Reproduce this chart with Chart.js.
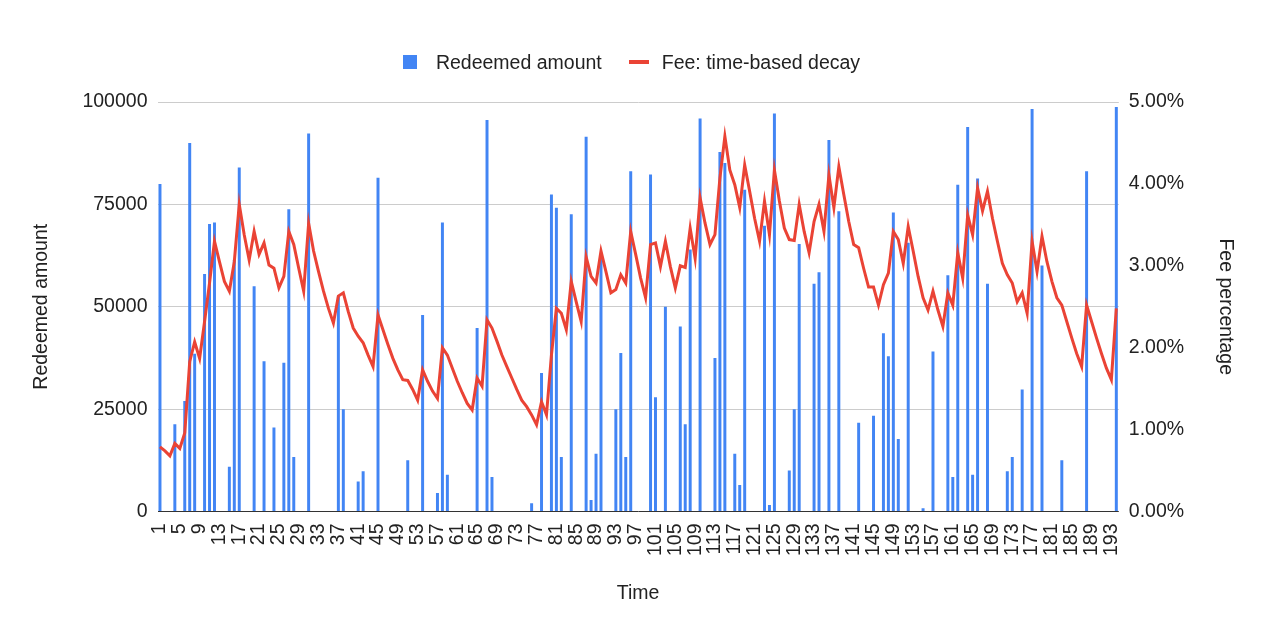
<!DOCTYPE html>
<html>
<head>
<meta charset="utf-8">
<script src="https://cdn.jsdelivr.net/npm/chart.js@4.4.1/dist/chart.umd.min.js"></script>
<style>
  body { margin: 0; background: #fff; font-family: 'Liberation Sans', Arial, sans-serif; }
  #wrap { position: relative; width: 1271px; height: 638px; }
  #legend { position: absolute; top: 50px; left: -4px; width: 1271px; height: 24px; display: flex; justify-content: center; align-items: center; font-size: 19.5px; color: #222; }
</style>
</head>
<body>
<div id="wrap">
  <canvas id="mainChart"></canvas>
  <div id="legend"></div>
</div>
<script>
const BLUE = '#4285f4';
const RED = '#ea4335';

// x categories: time steps 1..194, labels shown every 4th
const times = Array.from({ length: 194 }, (_, i) => i + 1);

// time steps that had a redemption, and the amount redeemed
const barTimes = [
  1, 4, 6, 7, 8, 10, 11, 12, 15, 16,
  17, 20, 22, 24, 26, 27, 28, 31, 37, 38,
  41, 42, 45, 51, 54, 57, 58, 59, 65, 67,
  68, 76, 78, 80, 81, 82, 84, 87, 88, 89,
  90, 93, 94, 95, 96, 100, 101, 103, 106, 107,
  108, 110, 113, 114, 115, 117, 118, 119, 123, 124,
  125, 128, 129, 130, 133, 134, 136, 138, 142, 145,
  147, 148, 149, 150, 152, 155, 157, 160, 161, 162,
  164, 165, 166, 168, 172, 173, 175, 177, 179, 183,
  188, 194,
];
const barAmounts = [
  80000, 21300, 27000, 90000, 38500, 58000, 70200, 70600, 10900, 61500,
  84000, 55000, 36700, 20500, 36300, 73800, 13300, 92300, 52500, 25000,
  7300, 9800, 81500, 12500, 48000, 4500, 70600, 9000, 44800, 95600,
  8400, 2000, 33800, 77400, 74200, 13300, 72600, 91500, 2800, 14100,
  62500, 25000, 38700, 13300, 83100, 82300, 27900, 50000, 45200, 21300,
  64000, 96000, 37500, 87800, 85100, 14100, 6500, 78600, 69800, 1600,
  97200, 10000, 25000, 65300, 55600, 58400, 90700, 73300, 21700, 23400,
  43500, 37900, 73000, 17700, 65600, 800, 39100, 57700, 8400, 79800,
  93900, 9000, 81300, 55600, 9800, 13300, 29800, 98300, 60100, 12500,
  83100, 98800,
];

// fee percentage at each time step
const feePct = [
  0.79, 0.74, 0.68, 0.83, 0.77, 0.96, 1.83, 2.07, 1.87, 2.32,
  2.79, 3.30, 3.05, 2.81, 2.69, 3.05, 3.75, 3.38, 3.07, 3.42,
  3.14, 3.28, 3.01, 2.97, 2.73, 2.87, 3.42, 3.26, 2.97, 2.69,
  3.52, 3.18, 2.93, 2.69, 2.48, 2.30, 2.63, 2.67, 2.44, 2.24,
  2.14, 2.06, 1.91, 1.77, 2.40, 2.22, 2.04, 1.87, 1.73, 1.61,
  1.60, 1.49, 1.36, 1.73, 1.59, 1.47, 1.38, 2.00, 1.91, 1.75,
  1.59, 1.45, 1.32, 1.24, 1.63, 1.53, 2.34, 2.24, 2.08, 1.91,
  1.77, 1.63, 1.49, 1.36, 1.28, 1.18, 1.06, 1.34, 1.18, 1.91,
  2.48, 2.42, 2.22, 2.81, 2.56, 2.32, 3.11, 2.87, 2.79, 3.18,
  2.93, 2.67, 2.71, 2.89, 2.79, 3.42, 3.14, 2.85, 2.61, 3.26,
  3.28, 2.99, 3.30, 2.99, 2.73, 3.00, 2.98, 3.46, 3.09, 3.83,
  3.52, 3.26, 3.38, 4.07, 4.58, 4.17, 3.99, 3.71, 4.23, 3.91,
  3.58, 3.30, 3.79, 3.38, 4.17, 3.79, 3.46, 3.32, 3.31, 3.75,
  3.42, 3.16, 3.54, 3.75, 3.42, 4.11, 3.71, 4.21, 3.87, 3.54,
  3.26, 3.22, 2.97, 2.74, 2.74, 2.52, 2.77, 2.91, 3.42, 3.32,
  3.03, 3.48, 3.18, 2.87, 2.61, 2.46, 2.69, 2.46, 2.26, 2.67,
  2.52, 3.16, 2.85, 3.62, 3.38, 3.95, 3.67, 3.91, 3.58, 3.30,
  3.03, 2.89, 2.79, 2.56, 2.67, 2.42, 3.30, 2.93, 3.36, 3.05,
  2.81, 2.61, 2.52, 2.32, 2.12, 1.93, 1.77, 2.52, 2.32, 2.12,
  1.93, 1.75, 1.61, 2.48,
];

const redeemed = times.map(t => {
  const k = barTimes.indexOf(t);
  return k >= 0 ? barAmounts[k] : null;
});

const legendItems = [
  { label: 'Redeemed amount', color: BLUE, kind: 'box' },
  { label: 'Fee: time-based decay', color: RED, kind: 'line' },
];

document.getElementById('legend').innerHTML = legendItems.map((it, i) => `
  <span style="display:inline-flex; align-items:center; margin-left:${i ? 27 : 0}px;">
    ${it.kind === 'box'
      ? `<span style="width:14px; height:14px; background:${it.color}; margin-right:19px;"></span>`
      : `<span style="width:20px; height:4px; background:${it.color}; margin-right:13px;"></span>`}
    <span>${it.label}</span>
  </span>
`).join('');

Chart.defaults.font.family = "'Liberation Sans', Arial, sans-serif";
Chart.defaults.font.size = 19.5;
Chart.defaults.color = '#222';

new Chart(document.getElementById('mainChart'), {
  type: 'bar',
  data: {
    labels: times,
    datasets: [
      {
        type: 'line',
        label: 'Fee: time-based decay',
        data: feePct,
        borderColor: RED,
        backgroundColor: RED,
        borderWidth: 3,
        pointRadius: 0,
        tension: 0,
        yAxisID: 'yFee',
        order: 0,
      },
      {
        type: 'bar',
        label: 'Redeemed amount',
        data: redeemed,
        backgroundColor: BLUE,
        barPercentage: 0.6,
        categoryPercentage: 1,
        yAxisID: 'y',
        order: 1,
      },
    ],
  },
  options: {
    responsive: true,
    maintainAspectRatio: false,
    animation: false,
    layout: { padding: { top: 102, left: 20, right: 20, bottom: 33 } },
    plugins: { legend: { display: false }, tooltip: { enabled: false } },
    scales: {
      x: {
        offset: true,
        grid: { display: false },
        border: { display: false },
        ticks: {
          autoSkip: false, maxRotation: 90, minRotation: 90, padding: 4,
          callback: (v, i) => i % 4 === 0 ? String(times[i]) : null,
        },
        title: { display: true, text: 'Time', padding: 0 },
        afterFit: s => { s.height = 93.5; },
      },
      y: {
        position: 'left',
        min: 0, max: 100000,
        ticks: { stepSize: 25000, padding: 10, callback: v => String(v) },
        grid: { color: c => c.tick && c.tick.value === 0 ? '#333' : '#ccc', drawTicks: false },
        border: { display: false },
        title: { display: true, text: 'Redeemed amount', padding: { top: 10, bottom: 0 } },
        afterFit: s => { s.width = 137.5; },
      },
      yFee: {
        position: 'right',
        min: 0, max: 5,
        ticks: { stepSize: 1, padding: 10, callback: v => v.toFixed(2) + '%' },
        grid: { drawOnChartArea: false, drawTicks: false },
        border: { display: false },
        title: { display: true, text: 'Fee percentage', padding: { top: 14, bottom: 0 } },
        afterFit: s => { s.width = 132.2; },
      },
    },
  },
});
</script>
</body>
</html>
